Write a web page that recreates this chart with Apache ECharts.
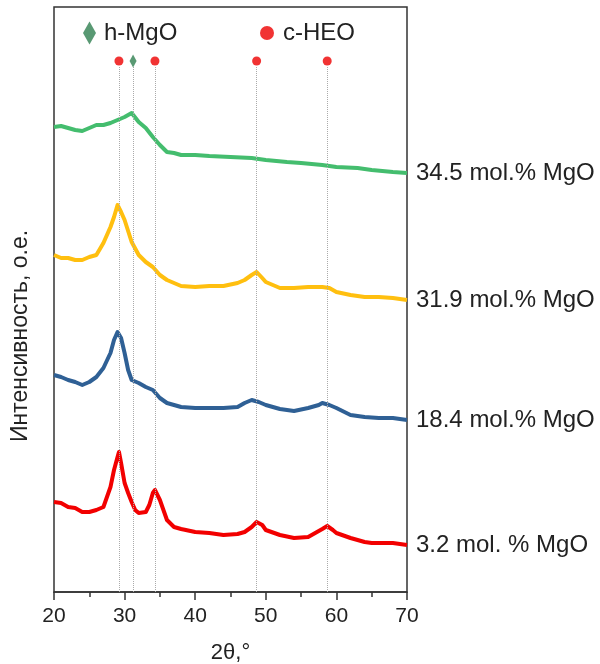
<!DOCTYPE html>
<html>
<head>
<meta charset="utf-8">
<script src="https://cdn.jsdelivr.net/npm/echarts@6/dist/echarts.min.js"></script>
<style>
  html, body { margin: 0; padding: 0; background: #fff; }
  #xrd { width: 600px; height: 664px; }
</style>
</head>
<body>
<div id="xrd"></div>
<script>
// 2theta, intensity (a.u., curves already stacked)
const mgo345 = [[20,465],[21,466],[22,464],[23,462],[24,461],[25,464],[26,467],[27,467],[28,469],[29,472],[30,475],[31,479],[32,470],[33,464],[34,455],[35,447],[36,440],[37,439],[38,437],[40,437],[42,436],[45,435],[48,434],[50,432],[53,430],[55,429],[58,427],[60,425],[63,424],[65,422],[68,420],[70,419]]
const mgo319 = [[20,337],[21,334],[22,334],[23,332],[24,332],[25,335],[26,337],[27,349],[28,365],[28.5,375],[29,387],[29.5,380],[30,372],[31,350],[32,337],[33,330],[34,325],[35,317],[36,312],[37,309],[38,306],[40,305],[42,306],[44,306],[46,309],[47,312],[48,317],[48.7,320],[49.5,314],[50,310],[51,307],[52,304],[54,304],[56,305],[58,305],[59,304],[60,300],[62,297],[64,295],[66,295],[68,294],[70,292]]
const mgo184 = [[20,217],[21,215],[22,212],[23,210],[24,207],[25,210],[26,215],[27,224],[28,239],[28.5,252],[29,260],[29.5,254],[30,239],[30.5,222],[31,212],[32,209],[33,205],[34,202],[35,194],[36,189],[37,187],[38,185],[40,184],[42,184],[44,184],[46,185],[47,189],[48,192],[49,190],[50,187],[52,183],[54,181],[56,184],[57.5,187],[58,189],[59,187],[60,184],[62,177],[64,175],[66,174],[68,174],[70,172]]
const mgo32 = [[20,90],[21,89],[22,85],[23,84],[24,80],[25,80],[26,82],[27,85],[28,105],[28.5,122],[29,135],[29.2,140],[29.5,129],[30,109],[30.5,99],[31,90],[31.5,82],[32,79],[33,80],[33.5,87],[34,99],[34.3,102],[35,92],[35.5,82],[36,72],[37,65],[38,63],[40,60],[42,59],[44,57],[46,58],[47,60],[48,65],[48.7,70],[49.5,67],[50,62],[52,57],[54,54],[56,55],[57,59],[58,63],[58.7,66],[59.5,62],[60,59],[62,54],[64,50],[65,49],[66,49],[68,49],[70,47]]

const seriesNames = ['34.5 mol.% MgO', '31.9 mol.% MgO', '18.4 mol.% MgO', '3.2 mol. % MgO']
const seriesColors = ['#44bd6e', '#ffbf0f', '#2f6095', '#f20000']

// reflection positions
const heoPeaks = [29.2, 34.3, 48.7, 58.7]
const mgoPeaks = [31.2]
const markerLevel = 531

const font = "'Liberation Sans', Arial, sans-serif"
let chart = echarts.init(document.getElementById('xrd'))

let dropLines = (peaks) => peaks.map(p => [{ coord: [p, 0] }, { coord: [p, markerLevel - 6] }])

let option = {
  animation: false,
  grid: {
    left: 54,
    right: 193,
    top: 7,
    bottom: 72,
    show: true,
    borderColor: '#333',
    borderWidth: 1.5,
    outerBoundsMode: 'none'
  },
  legend: [
    {
      data: [{ name: 'h-MgO', icon: 'diamond' }],
      left: 78,
      top: 16,
      itemWidth: 13,
      itemHeight: 23,
      textStyle: { fontFamily: font, fontSize: 24, color: '#222', padding: [0, 0, 0, 3] }
    },
    {
      data: [{ name: 'c-HEO', icon: 'circle' }],
      left: 255,
      top: 16,
      itemWidth: 14,
      itemHeight: 14,
      textStyle: { fontFamily: font, fontSize: 24, color: '#222', padding: [0, 0, 0, 4] }
    }
  ],
  xAxis: {
    type: 'value',
    min: 20,
    max: 70,
    interval: 10,
    name: '2θ,°',
    nameLocation: 'middle',
    nameGap: 50,
    nameTextStyle: { fontFamily: font, fontSize: 22, color: '#222' },
    axisLine: { lineStyle: { color: '#333', width: 1.5 } },
    axisTick: { show: true, length: 8, lineStyle: { color: '#333', width: 1.5 } },
    minorTick: { show: true, splitNumber: 2, length: 5, lineStyle: { color: '#333', width: 1.5 } },
    axisLabel: { fontFamily: font, fontSize: 21, color: '#222', margin: 14 },
    splitLine: { show: false }
  },
  yAxis: {
    type: 'value',
    min: 0,
    max: 585,
    axisLine: { show: false },
    axisTick: { show: false },
    axisLabel: { show: false },
    splitLine: { show: false }
  },
  graphic: [
    {
      type: 'text',
      x: 21,
      y: 336,
      rotation: Math.PI / 2,
      style: {
        text: 'Интенсивность, о.е.',
        font: '23px ' + font,
        fill: '#222',
        align: 'center',
        verticalAlign: 'middle'
      }
    }
  ],
  series: [
    {
      name: 'c-HEO',
      type: 'scatter',
      data: heoPeaks.map(p => [p, markerLevel]),
      symbol: 'circle',
      symbolSize: 9,
      itemStyle: { color: '#ee0000' },
      z: 5,
      markLine: {
        silent: true,
        symbol: 'none',
        label: { show: false },
        lineStyle: { color: '#aaa', type: 'dotted', width: 1 },
        data: dropLines(heoPeaks)
      }
    },
    {
      name: 'h-MgO',
      type: 'scatter',
      data: mgoPeaks.map(p => [p, markerLevel]),
      symbol: 'diamond',
      symbolSize: [7, 13],
      itemStyle: { color: '#2f8050' },
      z: 5,
      markLine: {
        silent: true,
        symbol: 'none',
        label: { show: false },
        lineStyle: { color: '#aaa', type: 'dotted', width: 1 },
        data: dropLines(mgoPeaks)
      }
    }
  ].concat([mgo345, mgo319, mgo184, mgo32].map((d, i) => ({
    name: seriesNames[i],
    type: 'line',
    data: d,
    showSymbol: false,
    lineStyle: { color: seriesColors[i], width: 4, join: 'round' },
    itemStyle: { color: seriesColors[i] },
    z: 3,
    endLabel: {
      show: true,
      formatter: '{a}',
      distance: 9,
      fontFamily: font,
      fontSize: 24,
      color: '#222'
    }
  })))
}

chart.setOption(option)
</script>
</body>
</html>
